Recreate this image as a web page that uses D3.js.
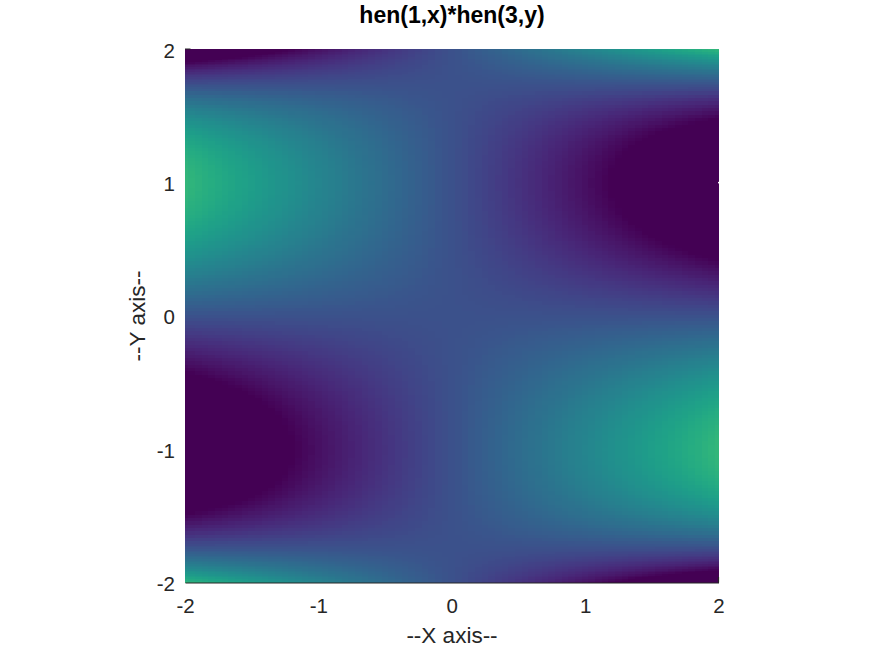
<!DOCTYPE html>
<html><head><meta charset="utf-8">
<script src="https://cdn.jsdelivr.net/npm/d3@7"></script>
<style>html,body{margin:0;padding:0;background:#fff}svg{display:block}text{font-family:"Liberation Sans",Arial,sans-serif}</style>
</head><body><div id="c"></div>
<script>
const titleText = "hen(1,x)*hen(3,y)";
const xLabelText = "--X axis--";
const yLabelText = "--Y axis--";
const tickValues = [-2,-1,0,1,2];
const colorDomain = [-2.4, 7.3];

const xGrid = [-2,-1.95,-1.9,-1.85,-1.8,-1.75,-1.7,-1.65,-1.6,-1.55,-1.5,-1.45,-1.4,-1.35,-1.3,-1.25,-1.2,-1.15,-1.1,-1.05,-1,-0.95,-0.9,-0.85,-0.8,-0.75,-0.7,-0.65,-0.6,-0.55,-0.5,-0.45,-0.4,-0.35,-0.3,-0.25,-0.2,-0.15,-0.1,-0.05,0,0.05,0.1,0.15,0.2,0.25,0.3,0.35,0.4,0.45,0.5,0.55,0.6,0.65,0.7,0.75,0.8,0.85,0.9,0.95,1,1.05,1.1,1.15,1.2,1.25,1.3,1.35,1.4,1.45,1.5,1.55,1.6,1.65,1.7,1.75,1.8,1.85,1.9,1.95,2];

const yUpper = [0,0.025,0.05,0.075,0.1,0.125,0.15,0.175,0.2,0.225,0.25,0.275,0.3,0.325,0.35,0.375,0.4,0.425,0.45,0.475,0.5,0.525,0.55,0.575,0.6,0.625,0.65,0.675,0.7,0.725,0.75,0.775,0.8,0.825,0.85,0.875,0.9,0.925,0.95,0.975,1,1.025,1.05,1.075,1.1,1.125,1.15,1.175,1.2,1.225,1.25,1.275,1.3,1.325,1.35,1.375,1.4,1.425,1.45,1.475,1.5,1.525,1.55,1.575,1.6,1.625,1.65,1.675,1.7,1.7125,1.725,1.7375,1.75,1.7625,1.775,1.7875,1.8,1.8125,1.825,1.8375,1.85,1.8625,1.875,1.8875,1.9,1.9125,1.925,1.9375,1.95,1.9625,1.975,1.9875,2];
const hen3Upper = [0,-0.075,-0.1499,-0.2246,-0.299,-0.373,-0.4466,-0.5196,-0.592,-0.6636,-0.7344,-0.8042,-0.873,-0.9407,-1.0071,-1.0723,-1.136,-1.1982,-1.2589,-1.3178,-1.375,-1.4303,-1.4836,-1.5349,-1.584,-1.6309,-1.6754,-1.7175,-1.757,-1.7939,-1.8281,-1.8595,-1.888,-1.9135,-1.9359,-1.9551,-1.971,-1.9836,-1.9926,-1.9981,-2,-1.9981,-1.9924,-1.9827,-1.969,-1.9512,-1.9291,-1.9028,-1.872,-1.8367,-1.7969,-1.7523,-1.703,-1.6488,-1.5896,-1.5254,-1.456,-1.3814,-1.3014,-1.216,-1.125,-1.0284,-0.9261,-0.8181,-0.704,-0.584,-0.4579,-0.3256,-0.187,-0.1153,-0.0421,0.0329,0.1094,0.1875,0.2674,0.3489,0.432,0.5168,0.6034,0.6917,0.7816,0.8733,0.9668,1.062,1.159,1.2578,1.3583,1.4607,1.5649,1.6709,1.7787,1.8884,2];

const yGrid = yUpper.slice(1).reverse().map(d => -d).concat(yUpper);
const hen3 = hen3Upper.slice(1).reverse().map(d => -d).concat(hen3Upper);

const W = 873, H = 655;
const plot = {l:185, r:718.5, t:49, b:582.5};
const svg = d3.select("#c").append("svg").attr("width",W).attr("height",H);
const x = d3.scaleLinear().domain([-2,2]).range([plot.l,plot.r]);
const y = d3.scaleLinear().domain([-2,2]).range([plot.b,plot.t]);
const color = d3.scaleSequential(d3.interpolateViridis).domain(colorDomain).clamp(true);

function edges(a){
  return a.map((d,i)=>[
    i===0 ? d : (a[i-1]+d)/2,
    i===a.length-1 ? d : (d+a[i+1])/2
  ]);
}
const xE = edges(xGrid), yE = edges(yGrid);
const cells = [];
xGrid.forEach((xv,i)=>yGrid.forEach((yv,j)=>cells.push({i,j,v:xv*hen3[j]})));

svg.append("g").attr("shape-rendering","crispEdges").selectAll("rect").data(cells).join("rect")
  .attr("x",d=>x(xE[d.i][0]))
  .attr("width",d=>x(xE[d.i][1])-x(xE[d.i][0])+0.6)
  .attr("y",d=>y(yE[d.j][1]))
  .attr("height",d=>y(yE[d.j][0])-y(yE[d.j][1])+0.6)
  .attr("fill",d=>color(d.v));

const textColor = "#262626";
const fontStack = '"Liberation Sans",Arial,sans-serif';
const tickFmt = d => String(d);
const gx = svg.append("g").attr("transform",`translate(0,${plot.b})`)
  .call(d3.axisBottom(x).tickValues(tickValues).tickSize(0).tickPadding(16).tickFormat(tickFmt));
const gy = svg.append("g").attr("transform",`translate(${plot.l},1.5)`)
  .call(d3.axisLeft(y).tickValues(tickValues).tickSize(0).tickPadding(10).tickFormat(tickFmt));
gx.selectAll("text").attr("font-size",20.5).attr("fill",textColor).style("font-family",fontStack);
gy.selectAll("text").attr("font-size",20.5).attr("fill",textColor).style("font-family",fontStack);
gx.select(".domain").attr("stroke","#262626").attr("stroke-width",1.2);
gy.select(".domain").attr("stroke","none");

// small tick stubs that remain visible at the plot corners
svg.append("line").attr("x1",x(2)).attr("x2",x(2)).attr("y1",y(-2)).attr("y2",y(-2)-5.5).attr("stroke","#262626").attr("stroke-width",1.2);
svg.append("line").attr("x1",x(-2)).attr("x2",x(-2)+5.5).attr("y1",y(2)).attr("y2",y(2)).attr("stroke","#262626").attr("stroke-width",1);
svg.append("rect").attr("x",x(2)-0.5).attr("y",y(1)-0.5).attr("width",1.5).attr("height",1.5).attr("fill","#fff");

svg.append("text").attr("x",452).attr("y",23).attr("text-anchor","middle")
  .attr("font-size",23).attr("font-weight","bold").attr("fill","#000").text(titleText);
svg.append("text").attr("x",452).attr("y",643).attr("text-anchor","middle")
  .attr("font-size",22.5).attr("fill",textColor).text(xLabelText);
svg.append("text").attr("transform","translate(145,316) rotate(-90)").attr("text-anchor","middle")
  .attr("font-size",22.5).attr("fill",textColor).text(yLabelText);
</script></body></html>
